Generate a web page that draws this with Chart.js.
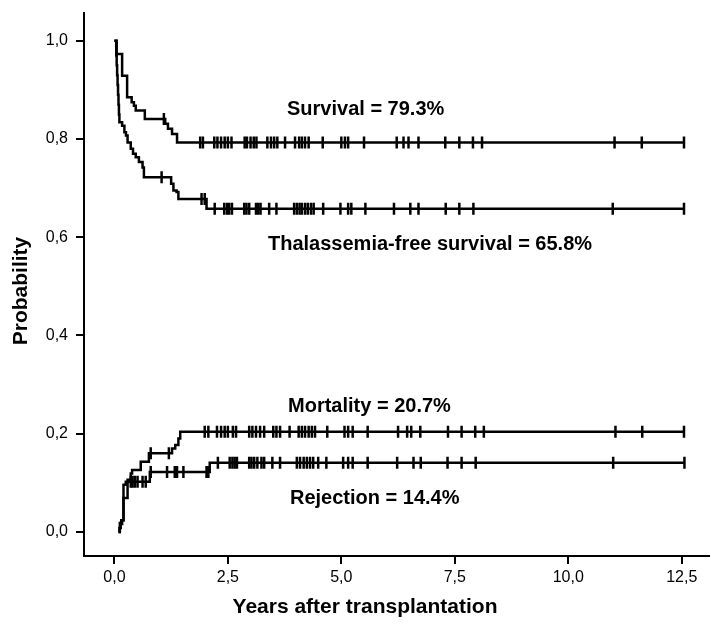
<!DOCTYPE html>
<html><head><meta charset="utf-8">
<script src="https://cdn.jsdelivr.net/npm/chart.js@4"></script>
<style>html,body{margin:0;padding:0;background:#fff;}canvas{display:block;}</style>
</head><body>
<canvas id="c" width="717" height="630"></canvas>
<script>
// ---- data (years after transplantation, probability) ----
const xTickValues = [0, 2.5, 5, 7.5, 10, 12.5];
const yTickValues = [0, 0.2, 0.4, 0.6, 0.8, 1.0];

const survivalTimes  = [0, 0.05, 0.17, 0.28, 0.38, 0.43, 0.47, 0.67, 1.12, 1.18, 1.27, 1.38, 12.55];
const survivalValues = [1.0, 0.973, 0.929, 0.885, 0.875, 0.868, 0.858, 0.841, 0.831, 0.821, 0.810, 0.793, 0.793];
const survivalCensor = [1.09, 1.89, 1.95, 2.20, 2.27, 2.35, 2.43, 2.50, 2.58, 2.87, 2.92, 3.00, 3.07, 3.13,
  3.37, 3.45, 3.52, 3.59, 3.76, 3.98, 4.07, 4.13, 4.20, 4.28, 4.59, 5.00, 5.08, 5.15, 5.50,
  6.22, 6.37, 6.48, 6.70, 7.29, 7.60, 7.90, 8.10, 11.02, 11.62, 12.55];

const tfsTimes  = [0, 0.04, 0.05, 0.06, 0.07, 0.08, 0.09, 0.10, 0.11, 0.17, 0.22, 0.255, 0.29, 0.36, 0.41, 0.47, 0.54, 0.62, 0.65, 1.25, 1.30, 1.37, 1.41, 2.03, 12.55];
const tfsValues = [1.0, 0.97, 0.95, 0.93, 0.91, 0.89, 0.87, 0.85, 0.834, 0.827, 0.814, 0.807, 0.793, 0.780, 0.770, 0.763, 0.753, 0.742, 0.722, 0.709, 0.695, 0.692, 0.678, 0.658, 0.658];
const tfsCensor = [1.04, 1.92, 1.99, 2.21, 2.42, 2.48, 2.53, 2.59, 2.86, 2.91, 2.97, 3.12, 3.17, 3.22, 3.41, 3.57,
  3.96, 4.02, 4.08, 4.13, 4.20, 4.26, 4.33, 4.39, 4.60, 4.98, 5.15, 5.22, 5.53, 6.16, 6.52, 6.70,
  7.30, 7.60, 7.91, 10.98, 12.55];

const mortalityTimes  = [0.09, 0.12, 0.15, 0.20, 0.29, 0.36, 0.39, 0.58, 0.76, 1.27, 1.34, 1.41, 1.45, 12.55];
const mortalityValues = [0, 0.018, 0.024, 0.069, 0.106, 0.119, 0.126, 0.143, 0.160, 0.170, 0.177, 0.190, 0.204, 0.204];
const mortalityCensor = [0.80, 1.20, 1.99, 2.07, 2.26, 2.35, 2.43, 2.50, 2.61, 2.68, 2.97, 3.04, 3.12, 3.21, 3.30,
  3.50, 3.57, 3.65, 3.86, 4.06, 4.13, 4.20, 4.28, 4.35, 4.42, 4.69, 5.07, 5.15, 5.25, 5.58,
  6.25, 6.45, 6.54, 6.74, 7.35, 7.65, 7.95, 8.14, 11.04, 11.63, 12.55];

const rejectionTimes  = [0.09, 0.11, 0.14, 0.17, 0.20, 0.25, 0.78, 2.10, 12.56];
const rejectionValues = [0, 0.008, 0.016, 0.024, 0.096, 0.102, 0.122, 0.141, 0.141];
const rejectionCensor = [0.36, 0.40, 0.45, 0.51, 0.62, 0.69, 0.80, 1.16, 1.33, 1.38, 1.52, 2.03, 2.07,
  2.28, 2.54, 2.60, 2.65, 2.70, 2.97, 3.02, 3.08, 3.15, 3.24, 3.30, 3.48, 3.65,
  4.02, 4.09, 4.17, 4.24, 4.31, 4.38, 4.49, 4.67, 5.04, 5.15, 5.25, 5.58,
  6.23, 6.59, 6.75, 7.34, 7.65, 7.96, 10.99, 12.56];

const labelTexts = ['Survival = 79.3%', 'Thalassemia-free survival = 65.8%', 'Mortality = 20.7%', 'Rejection = 14.4%'];
const axisTitleX = 'Years after transplantation';
const axisTitleY = 'Probability';

// ---- helpers ----
function stepAt(times, values, t) {
  let v = values[0];
  for (let i = 0; i < times.length; i++) { if (times[i] <= t + 1e-9) v = values[i]; }
  return v;
}
const curve = (times, values) => times.map((t, i) => ({x: t, y: values[i]}));
const marks = (times, values, cens) => cens.map(t => ({x: t, y: stepAt(times, values, t)}));

const FONT = '"Liberation Sans", Arial, Helvetica, sans-serif';
const lineDs = (data) => ({type: 'line', data, stepped: 'before', borderColor: '#000', borderWidth: 2.5,
  pointRadius: 0, fill: false, tension: 0, borderJoinStyle: 'miter'});
const markDs = (data) => ({type: 'scatter', data, showLine: false, pointStyle: 'line', rotation: 90,
  pointRadius: 6, pointHoverRadius: 6, borderColor: '#000', backgroundColor: '#000', pointBorderWidth: 2.5, borderWidth: 2.5});

const textPlugin = {
  id: 'texts',
  afterDraw(chart) {
    const ctx = chart.ctx;
    ctx.save();
    ctx.fillStyle = '#000';
    ctx.textBaseline = 'alphabetic';
    ctx.textAlign = 'left';
    ctx.font = 'bold 20px ' + FONT;
    const pos = [[287, 115], [268, 250], [288, 412], [290, 504]];
    labelTexts.forEach((t, i) => ctx.fillText(t, pos[i][0], pos[i][1]));
    ctx.font = 'bold 21px ' + FONT;
    ctx.textAlign = 'center';
    ctx.textBaseline = 'middle';
    ctx.fillText(axisTitleX, 365, 607);
    ctx.translate(21, 291);
    ctx.rotate(-Math.PI / 2);
    ctx.fillText(axisTitleY, 0, 0);
    ctx.restore();
  }
};

const fmt = v => Number(v).toFixed(1).replace('.', ',');

new Chart(document.getElementById('c'), {
  type: 'scatter',
  data: {
    datasets: [
      lineDs(curve(survivalTimes, survivalValues)),
      markDs(marks(survivalTimes, survivalValues, survivalCensor)),
      lineDs(curve(tfsTimes, tfsValues)),
      markDs(marks(tfsTimes, tfsValues, tfsCensor)),
      lineDs(curve(mortalityTimes, mortalityValues)),
      markDs(marks(mortalityTimes, mortalityValues, mortalityCensor)),
      lineDs(curve(rejectionTimes, rejectionValues)),
      markDs(marks(rejectionTimes, rejectionValues, rejectionCensor))
    ]
  },
  options: {
    responsive: false,
    animation: false,
    devicePixelRatio: 1,
    layout: {padding: {top: 12, left: 0, right: 0, bottom: 0}},
    plugins: {legend: {display: false}, tooltip: {enabled: false}},
    events: [],
    scales: {
      x: {
        type: 'linear', position: 'bottom', min: -0.67, max: 13.09,
        afterBuildTicks: s => { s.ticks = xTickValues.map(v => ({value: v})); },
        afterFit: s => { s.height = 74; },
        ticks: {callback: fmt, color: '#000', font: {family: FONT, size: 16}, padding: 4, autoSkip: false, maxRotation: 0},
        grid: {drawOnChartArea: false, drawTicks: true, tickLength: 8, color: '#000', lineWidth: 2},
        border: {display: true, color: '#000', width: 2}
      },
      y: {
        type: 'linear', position: 'left', min: -0.049, max: 1.057,
        afterBuildTicks: s => { s.ticks = yTickValues.map(v => ({value: v})); },
        afterFit: s => { s.width = 84; },
        ticks: {callback: fmt, color: '#000', font: {family: FONT, size: 16, lineHeight: 0.6}, padding: 8, autoSkip: false},
        grid: {drawOnChartArea: false, drawTicks: true, tickLength: 8, color: '#000', lineWidth: 2},
        border: {display: true, color: '#000', width: 2}
      }
    }
  },
  plugins: [textPlugin]
});
</script>
</body></html>
